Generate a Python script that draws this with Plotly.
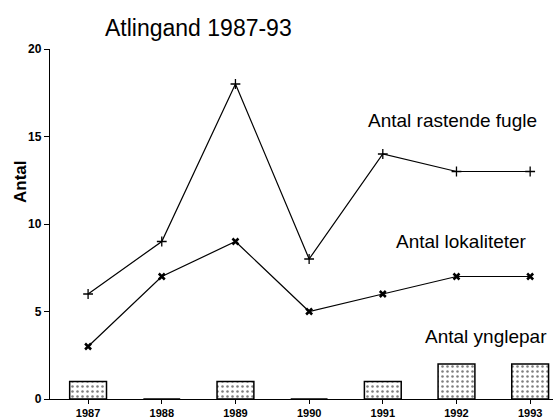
import plotly.graph_objects as go

years = [1987, 1988, 1989, 1990, 1991, 1992, 1993]
rastende_fugle = [6, 9, 18, 8, 14, 13, 13]
lokaliteter = [3, 7, 9, 5, 6, 7, 7]
ynglepar = [1, 0, 1, 0, 1, 2, 2]
y_ticks = [0, 5, 10, 15, 20]

FONT = "Liberation Sans"

fig = go.Figure()
fig.add_trace(go.Bar(
    x=years, y=ynglepar, width=0.5,
    marker=dict(color="white", line=dict(color="black", width=1.5),
                pattern=dict(shape=".", size=5, solidity=0.2,
                             fgcolor="black", bgcolor="white")),
    showlegend=False,
))
fig.add_trace(go.Scatter(
    x=years, y=rastende_fugle, mode="lines+markers",
    line=dict(color="black", width=1.2),
    marker=dict(symbol="cross-thin", size=7, line=dict(color="black", width=1.3)),
    showlegend=False,
))
fig.add_trace(go.Scatter(
    x=years, y=lokaliteter, mode="lines+markers",
    line=dict(color="black", width=1.2),
    marker=dict(symbol="x-thin", size=6, line=dict(color="black", width=2.5)),
    showlegend=False,
))

fig.update_layout(
    width=556, height=419,
    margin=dict(l=50, r=3, t=49, b=20, autoexpand=False),
    paper_bgcolor="white", plot_bgcolor="white",
    font=dict(family=FONT, color="black"),
    title=dict(text="Atlingand 1987-93", xref="container", yref="container",
               x=105 / 556, xanchor="left", y=1 - 28 / 419, yanchor="middle",
               font=dict(size=23, family=FONT, color="black")),
    xaxis=dict(range=[1986.483, 1993.31], tickvals=years,
               ticktext=[str(y) for y in years], automargin=False,
               showline=True, linecolor="black", linewidth=1.3,
               ticks="outside", ticklen=4, tickcolor="black",
               ticklabelstandoff=0,
               showgrid=False, zeroline=False,
               tickfont=dict(size=11, family=FONT, weight="bold")),
    yaxis=dict(range=[0, 20], tickvals=y_ticks, automargin=False,
               showline=True, linecolor="black", linewidth=1.3,
               ticks="outside", ticklen=5, tickcolor="black",
               showgrid=False, zeroline=False,
               tickfont=dict(size=12, family=FONT, weight="bold")),
    annotations=[
        dict(text="Antal", xref="paper", yref="paper", x=(20 - 50) / 503,
             y=(399 - 182) / 350, textangle=-90, showarrow=False,
             xanchor="center", yanchor="middle",
             font=dict(size=17, family=FONT, weight="bold")),
        dict(text="Antal rastende fugle", xref="paper", yref="paper",
             x=(366 - 50) / 503, y=(399 - 120) / 350, showarrow=False,
             xanchor="left", yanchor="middle", font=dict(size=19, family=FONT)),
        dict(text="Antal lokaliteter", xref="paper", yref="paper",
             x=(394 - 50) / 503, y=(399 - 242) / 350, showarrow=False,
             xanchor="left", yanchor="middle", font=dict(size=19, family=FONT)),
        dict(text="Antal ynglepar", xref="paper", yref="paper",
             x=(423 - 50) / 503, y=(399 - 336) / 350, showarrow=False,
             xanchor="left", yanchor="middle", font=dict(size=19, family=FONT)),
    ],
)

fig.write_html("out.html", config={"displayModeBar": False},
               post_script="document.body.style.margin='0';document.body.style.overflow='hidden';")
